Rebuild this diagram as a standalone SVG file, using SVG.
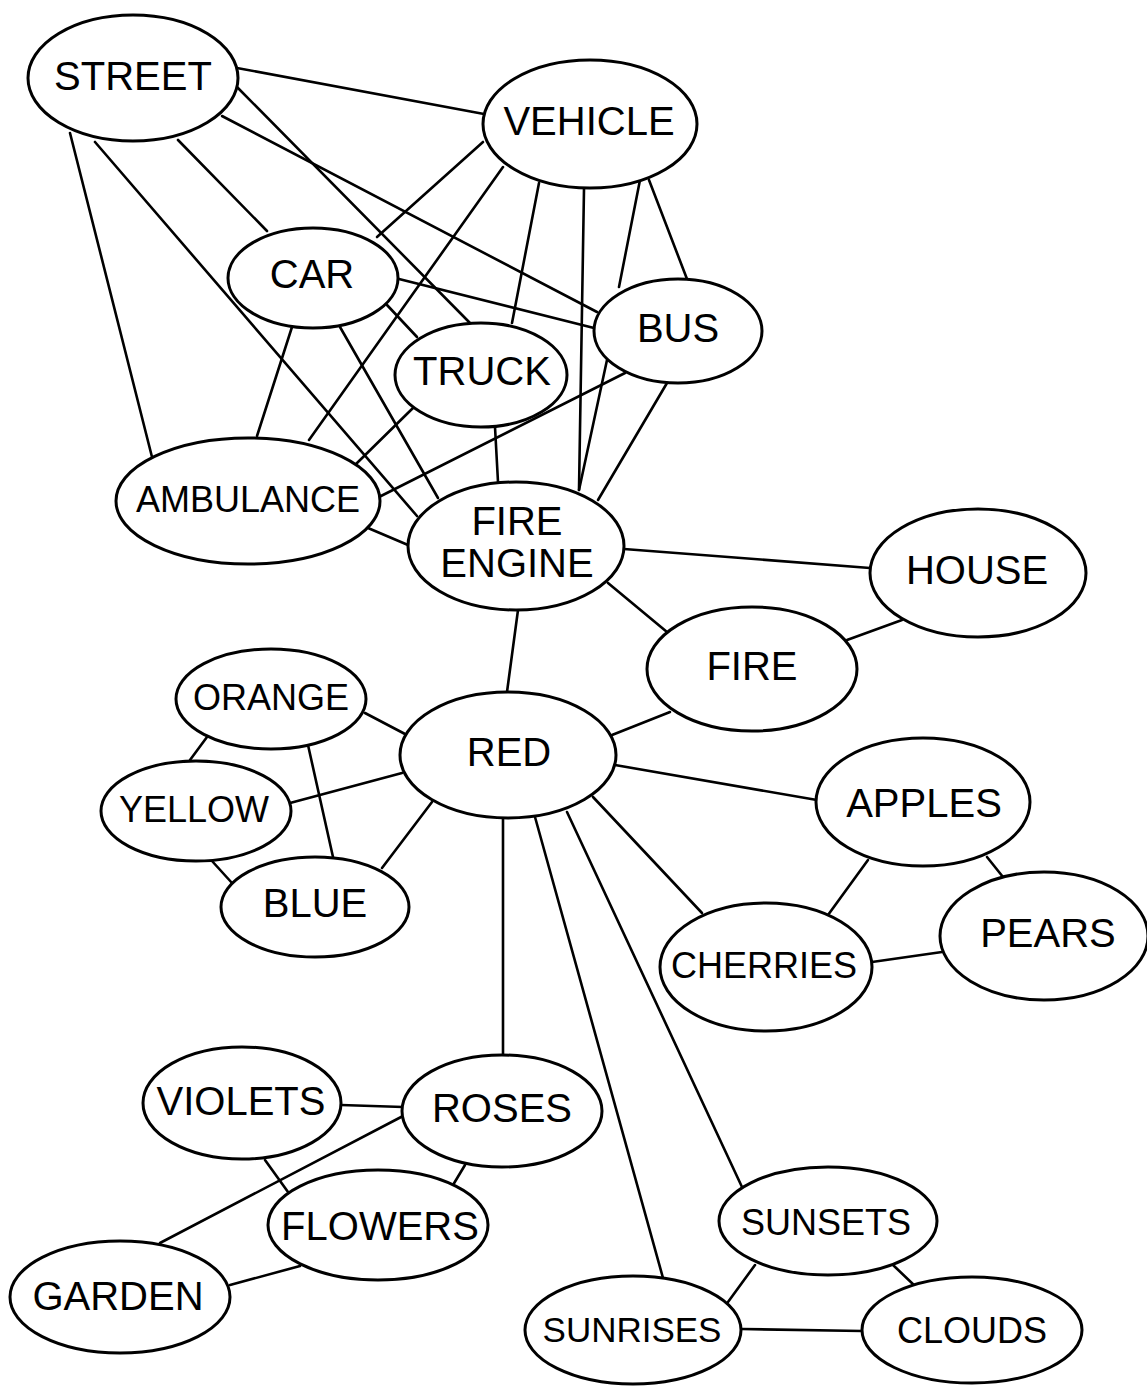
<svg xmlns="http://www.w3.org/2000/svg" width="1147" height="1387" viewBox="0 0 1147 1387">
<style>
.e{stroke:#000;stroke-width:2.6;stroke-linecap:round}
.n ellipse{fill:#fff;stroke:#000;stroke-width:3}
.n text{font-family:"Liberation Sans",Arial,sans-serif;font-size:40px;fill:#000;text-anchor:middle}
.n text.s{font-size:36px}
</style>
<rect width="1147" height="1387" fill="#fff"/>
<g id="connectors">
<line class="e" x1="237" y1="68" x2="484" y2="114"/>
<line class="e" x1="237" y1="87" x2="470" y2="323"/>
<line class="e" x1="222" y1="116" x2="597" y2="312"/>
<line class="e" x1="178" y1="140" x2="267" y2="231"/>
<line class="e" x1="95" y1="142" x2="417" y2="516"/>
<line class="e" x1="70" y1="133" x2="152" y2="457"/>
<line class="e" x1="483" y1="142" x2="377" y2="237"/>
<line class="e" x1="503" y1="167" x2="309" y2="440"/>
<line class="e" x1="539" y1="183" x2="512" y2="323"/>
<line class="e" x1="584" y1="189" x2="579" y2="490"/>
<line class="e" x1="640" y1="180" x2="619" y2="287"/>
<line class="e" x1="649" y1="180" x2="687" y2="279"/>
<line class="e" x1="395" y1="278" x2="594" y2="328"/>
<line class="e" x1="387" y1="305" x2="417" y2="337"/>
<line class="e" x1="292" y1="327" x2="257" y2="436"/>
<line class="e" x1="340" y1="327" x2="438" y2="498"/>
<line class="e" x1="413" y1="408" x2="356" y2="464"/>
<line class="e" x1="495" y1="427" x2="498" y2="482"/>
<line class="e" x1="607" y1="360" x2="579" y2="490"/>
<line class="e" x1="667" y1="383" x2="598" y2="500"/>
<line class="e" x1="625" y1="373" x2="379" y2="497"/>
<line class="e" x1="368" y1="528" x2="408" y2="545"/>
<line class="e" x1="624" y1="549" x2="870" y2="568"/>
<line class="e" x1="608" y1="583" x2="667" y2="632"/>
<line class="e" x1="518" y1="610" x2="507" y2="692"/>
<line class="e" x1="902" y1="620" x2="847" y2="640"/>
<line class="e" x1="612" y1="735" x2="670" y2="712"/>
<line class="e" x1="615" y1="765" x2="817" y2="800"/>
<line class="e" x1="593" y1="797" x2="702" y2="913"/>
<line class="e" x1="567" y1="812" x2="742" y2="1187"/>
<line class="e" x1="535" y1="817" x2="663" y2="1278"/>
<line class="e" x1="503" y1="819" x2="503" y2="1055"/>
<line class="e" x1="432" y1="802" x2="382" y2="868"/>
<line class="e" x1="402" y1="773" x2="290" y2="803"/>
<line class="e" x1="405" y1="734" x2="365" y2="713"/>
<line class="e" x1="207" y1="737" x2="190" y2="760"/>
<line class="e" x1="308" y1="745" x2="333" y2="857"/>
<line class="e" x1="212" y1="861" x2="232" y2="883"/>
<line class="e" x1="987" y1="857" x2="1003" y2="877"/>
<line class="e" x1="868" y1="860" x2="828" y2="915"/>
<line class="e" x1="872" y1="962" x2="942" y2="952"/>
<line class="e" x1="341" y1="1105" x2="403" y2="1107"/>
<line class="e" x1="403" y1="1116" x2="160" y2="1243"/>
<line class="e" x1="465" y1="1165" x2="453" y2="1185"/>
<line class="e" x1="265" y1="1160" x2="288" y2="1192"/>
<line class="e" x1="230" y1="1285" x2="300" y2="1266"/>
<line class="e" x1="755" y1="1265" x2="728" y2="1302"/>
<line class="e" x1="742" y1="1329" x2="862" y2="1331"/>
<line class="e" x1="893" y1="1265" x2="915" y2="1286"/>
</g>
<g id="street" class="n"><ellipse cx="133" cy="78" rx="105" ry="63"/><text x="133" y="90">STREET</text></g>
<g id="vehicle" class="n"><ellipse cx="590" cy="124" rx="107" ry="64"/><text x="589" y="135">VEHICLE</text></g>
<g id="car" class="n"><ellipse cx="313" cy="278" rx="85" ry="50"/><text x="312" y="288">CAR</text></g>
<g id="bus" class="n"><ellipse cx="678" cy="331" rx="84" ry="52"/><text x="678" y="342">BUS</text></g>
<g id="truck" class="n"><ellipse cx="481" cy="375" rx="86" ry="52"/><text x="482" y="385">TRUCK</text></g>
<g id="ambulance" class="n"><ellipse cx="248" cy="501" rx="132" ry="63"/><text class="s" x="248" y="512">AMBULANCE</text></g>
<g id="fire-engine" class="n"><ellipse cx="516" cy="546" rx="108" ry="64"/><text x="517" y="535">FIRE</text><text x="517" y="577">ENGINE</text></g>
<g id="house" class="n"><ellipse cx="978" cy="573" rx="108" ry="64"/><text x="977" y="584">HOUSE</text></g>
<g id="fire" class="n"><ellipse cx="752" cy="669" rx="105" ry="62"/><text x="752" y="680">FIRE</text></g>
<g id="orange" class="n"><ellipse cx="271" cy="699" rx="95" ry="50"/><text class="s" x="271" y="710">ORANGE</text></g>
<g id="red" class="n"><ellipse cx="508" cy="755" rx="108" ry="63"/><text x="509" y="766">RED</text></g>
<g id="yellow" class="n"><ellipse cx="196" cy="811" rx="95" ry="50"/><text class="s" x="194" y="822">YELLOW</text></g>
<g id="apples" class="n"><ellipse cx="923" cy="802" rx="107" ry="64"/><text x="924" y="817">APPLES</text></g>
<g id="blue" class="n"><ellipse cx="315" cy="907" rx="94" ry="50"/><text x="315" y="917">BLUE</text></g>
<g id="pears" class="n"><ellipse cx="1044" cy="936" rx="104" ry="64"/><text x="1048" y="947">PEARS</text></g>
<g id="cherries" class="n"><ellipse cx="766" cy="967" rx="106" ry="64"/><text class="s" x="764" y="978">CHERRIES</text></g>
<g id="violets" class="n"><ellipse cx="242" cy="1103" rx="99" ry="56"/><text x="241" y="1115">VIOLETS</text></g>
<g id="roses" class="n"><ellipse cx="502" cy="1111" rx="100" ry="56"/><text x="502" y="1122">ROSES</text></g>
<g id="flowers" class="n"><ellipse cx="378" cy="1225" rx="110" ry="55"/><text x="380" y="1240">FLOWERS</text></g>
<g id="garden" class="n"><ellipse cx="120" cy="1297" rx="110" ry="56"/><text x="118" y="1310">GARDEN</text></g>
<g id="sunsets" class="n"><ellipse cx="828" cy="1221" rx="109" ry="54"/><text class="s" x="826" y="1235">SUNSETS</text></g>
<g id="sunrises" class="n"><ellipse cx="633" cy="1330" rx="108" ry="54"/><text class="s" x="632" y="1342" style="font-size:35px">SUNRISES</text></g>
<g id="clouds" class="n"><ellipse cx="972" cy="1330" rx="110" ry="53"/><text class="s" x="972" y="1343">CLOUDS</text></g>
</svg>
